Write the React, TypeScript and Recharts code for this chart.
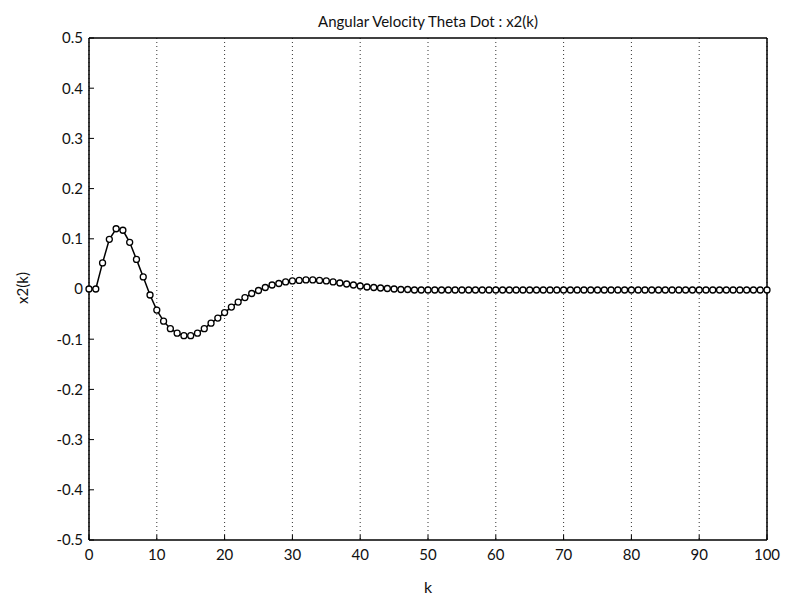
import React from 'react';
import { LineChart, Line, XAxis, YAxis, CartesianGrid, Label } from 'recharts';

// x2(k), k = 0..100
const x2Values = [
  0, 0, 0.052, 0.099, 0.12, 0.117, 0.093, 0.059, 0.024, -0.012,
  -0.042, -0.064, -0.079, -0.088, -0.093, -0.093, -0.088, -0.079, -0.068, -0.058,
  -0.047, -0.036, -0.026, -0.017, -0.009, -0.003, 0.003, 0.008, 0.011, 0.014,
  0.016, 0.017, 0.018, 0.018, 0.017, 0.016, 0.014, 0.012, 0.01, 0.008,
  0.006, 0.004, 0.003, 0.002, 0.001, 0, -0.001, -0.001, -0.002, -0.002,
  -0.002, -0.002, -0.002, -0.002, -0.002, -0.002, -0.002, -0.002, -0.002, -0.002,
  -0.002, -0.002, -0.002, -0.002, -0.002, -0.002, -0.002, -0.002, -0.002, -0.002,
  -0.002, -0.002, -0.002, -0.002, -0.002, -0.002, -0.002, -0.002, -0.002, -0.002,
  -0.002, -0.002, -0.002, -0.002, -0.002, -0.002, -0.002, -0.002, -0.002, -0.002,
  -0.002, -0.002, -0.002, -0.002, -0.002, -0.002, -0.002, -0.002, -0.002, -0.002,
  -0.002,
];

const xTicks = [0, 10, 20, 30, 40, 50, 60, 70, 80, 90, 100];
const yTicks = [-0.5, -0.4, -0.3, -0.2, -0.1, 0, 0.1, 0.2, 0.3, 0.4, 0.5];

const data = x2Values.map((v, k) => ({ k, x2: v }));

const font = 'Lato, "Open Sans", sans-serif';
const tickStyle = { fill: '#111', fontSize: 15, fontFamily: font };
const fmtY = (v: number) => (v === 0 ? '0' : v.toFixed(1));

export default function App() {
  return (
    <div style={{ position: 'absolute', left: 0, top: 0, width: 786, height: 603, background: '#fff' }}>
      <LineChart
        width={786}
        height={603}
        data={data}
        margin={{ top: 37, right: 18, left: 39, bottom: 31 }}
      >
        <CartesianGrid
          horizontal={false}
          verticalValues={xTicks}
          stroke="#333"
          strokeDasharray="1 3"
        />
        <XAxis
          dataKey="k"
          type="number"
          domain={[0, 100]}
          ticks={xTicks}
          height={32}
          axisLine={{ stroke: '#000', strokeWidth: 1.5 }}
          tickLine={{ stroke: '#000' }}
          tickSize={-5}
          tickMargin={14}
          tick={tickStyle}
        >
          <Label
            value="k"
            position="bottom"
            offset={10}
            style={{ fill: '#111', fontSize: 16, fontFamily: font }}
          />
        </XAxis>
        <XAxis
          xAxisId="top"
          orientation="top"
          type="number"
          domain={[0, 100]}
          ticks={xTicks}
          height={1}
          axisLine={{ stroke: '#000', strokeWidth: 1.5 }}
          tickLine={{ stroke: '#000' }}
          tickSize={-5}
          tick={false}
        >
          <Label
            value="Angular Velocity Theta Dot : x2(k)"
            position="top"
            offset={10}
            style={{ fill: '#111', fontSize: 15, fontFamily: font }}
          />
        </XAxis>
        <YAxis
          type="number"
          domain={[-0.5, 0.5]}
          ticks={yTicks}
          width={50}
          axisLine={{ stroke: '#000', strokeWidth: 1.5 }}
          tickLine={{ stroke: '#000' }}
          tickSize={-5}
          tickMargin={11}
          tickFormatter={fmtY}
          tick={tickStyle}
        >
          <Label
            content={() => (
              <text
                x={22}
                y={288}
                transform="rotate(-90, 22, 288)"
                textAnchor="middle"
                dominantBaseline="central"
                fill="#111"
                fontSize={15}
                fontFamily={font}
              >
                x2(k)
              </text>
            )}
          />
        </YAxis>
        <YAxis
          yAxisId="right"
          orientation="right"
          type="number"
          domain={[-0.5, 0.5]}
          ticks={yTicks}
          width={1}
          axisLine={{ stroke: '#000', strokeWidth: 1.5 }}
          tickLine={{ stroke: '#000' }}
          tickSize={-5}
          tick={false}
        />
        <Line
          type="linear"
          dataKey="x2"
          stroke="#000"
          strokeWidth={1.5}
          dot={{ r: 3, stroke: '#000', strokeWidth: 1.3, fill: '#fff' }}
          isAnimationActive={false}
        />
      </LineChart>
    </div>
  );
}
